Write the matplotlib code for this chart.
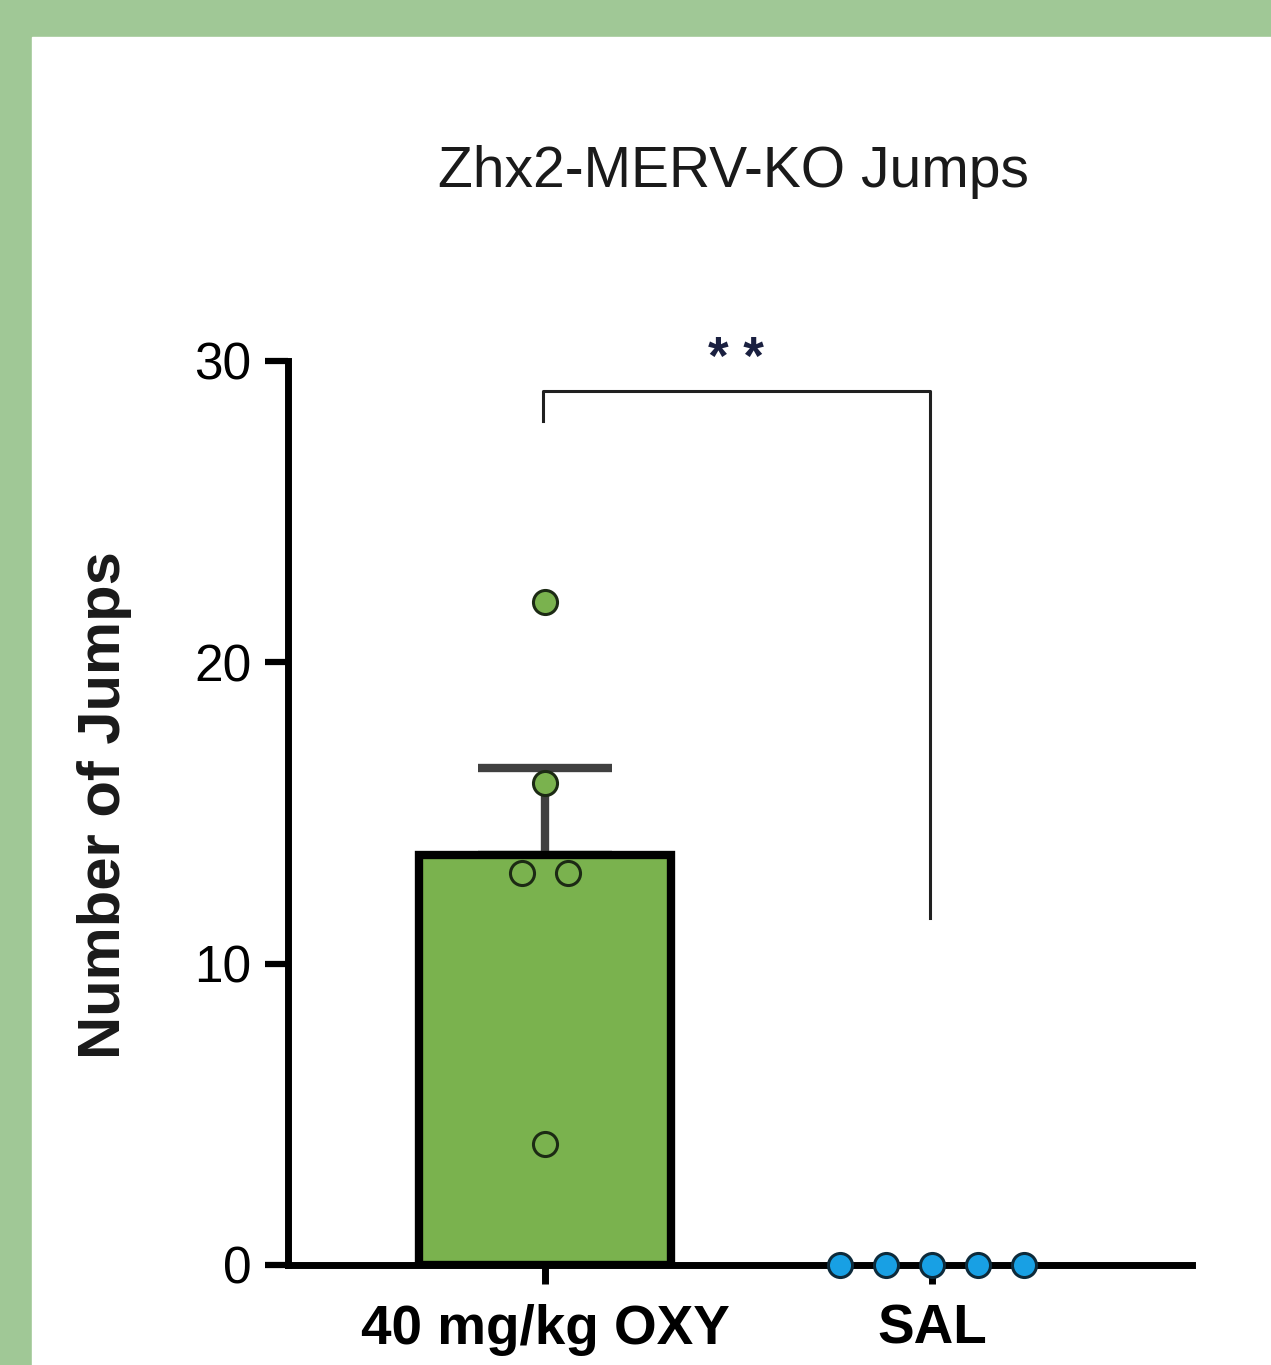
import numpy as np
import matplotlib
matplotlib.use("Agg")
import matplotlib.pyplot as plt
from matplotlib.patches import Rectangle

plt.rcParams['font.family'] = ['Liberation Sans', 'DejaVu Sans']

# data
groups = ["40 mg/kg OXY", "SAL"]
oxy_jumps = [22, 16, 13, 13, 4]
sal_jumps = [0, 0, 0, 0, 0]
yticks = [0, 10, 20, 30]
title = "Zhx2-MERV-KO Jumps"
ylabel = "Number of Jumps"
sig_label = "* *"

green = "#7ab24e"
blue = "#18a0e4"
border = "#a0c896"


def swarm_offsets(vals, step):
    # spread tied values side by side, centred on the category
    vals = np.asarray(vals)
    off = np.zeros(len(vals))
    for v in np.unique(vals):
        idx = np.where(vals == v)[0]
        n = len(idx)
        off[idx] = (np.arange(n) - (n - 1) / 2) * step
    return off


fig = plt.figure(figsize=(12.71, 13.65), dpi=100, facecolor=border)
fig.patches.append(Rectangle((32 / 1271, 0), 1, 1 - 37 / 1365,
                             transform=fig.transFigure, color="white", zorder=-10))

ax = fig.add_axes([288 / 1271, 1 - 1265 / 1365, 904 / 1271, 904 / 1365])
ax.set_facecolor("none")
ax.set_zorder(2)

x = np.arange(len(groups))
oxy = np.array(oxy_jumps, dtype=float)
sal = np.array(sal_jumps, dtype=float)
means = [oxy.mean(), sal.mean()]
sem = oxy.std(ddof=1) / np.sqrt(len(oxy))

ax.errorbar(x[0], means[0], yerr=[[0], [sem]], color="#404040", lw=6,
            capsize=48, capthick=6, zorder=2)
ax.bar(x[0], means[0], width=0.651, color=green, edgecolor="black",
       linewidth=6, zorder=3)

step = 0.119
ax.scatter(x[0] + swarm_offsets(oxy, step), oxy, s=300, color=green,
           edgecolors="#1c2a14", linewidths=2.2, zorder=5, clip_on=False)
ax.scatter(x[1] + swarm_offsets(sal, step), sal, s=300, color=blue,
           edgecolors="#0d2a3a", linewidths=2.2, zorder=5, clip_on=False)

# significance bracket
ax.plot([x[0] - 0.005, x[0] - 0.005, x[1] - 0.005, x[1] - 0.005],
        [28, 29, 29, 11.5], color="#202020", lw=2.2, clip_on=False, zorder=2)
ax.text((x[0] + x[1]) / 2 - 0.006, 29.58, sig_label, ha="center", va="baseline",
        fontsize=38, fontweight="bold", color="#1a2040", clip_on=False)

ax.set_xlim(-0.664, 1.672)
ax.set_ylim(0, 30)
ax.set_yticks(yticks)
ax.set_xticks(x)
ax.set_xticklabels(groups, fontsize=39.5, fontweight="bold")
ax.set_yticklabels([str(t) for t in yticks], fontsize=37)

for s in ["top", "right"]:
    ax.spines[s].set_visible(False)
for s in ["left", "bottom"]:
    ax.spines[s].set_linewidth(5)
    ax.spines[s].set_color("black")
ax.tick_params(axis="y", length=16.5, width=4.5, pad=10, direction="out")
ax.tick_params(axis="x", length=14, width=5, pad=14, direction="out")

fig.text(733 / 1271, 1 - 187 / 1365, title, ha="center", va="baseline",
         fontsize=41, color="#1a1a1a")
fig.text(105 / 1271, 1 - 805 / 1365, ylabel, ha="center", va="center",
         rotation=90, fontsize=43, fontweight="bold", color="#1a1a1a")

fig.savefig("out.png", dpi=100, facecolor=border)
